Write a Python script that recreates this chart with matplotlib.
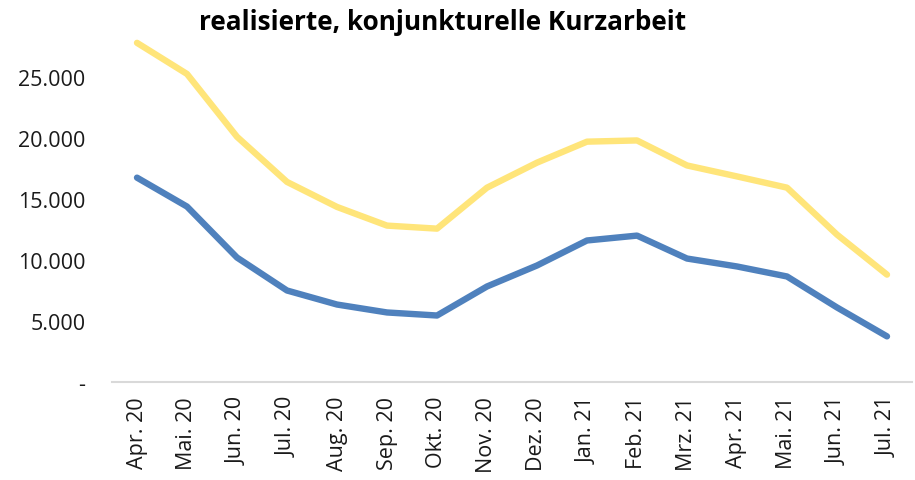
import matplotlib
matplotlib.use('Agg')
import matplotlib.pyplot as plt
from matplotlib.ticker import FuncFormatter

months = ['Apr. 20', 'Mai. 20', 'Jun. 20', 'Jul. 20', 'Aug. 20', 'Sep. 20', 'Okt. 20',
          'Nov. 20', 'Dez. 20', 'Jan. 21', 'Feb. 21', 'Mrz. 21', 'Apr. 21', 'Mai. 21',
          'Jun. 21', 'Jul. 21']
upper = [27800, 25250, 20100, 16400, 14350, 12820, 12570, 15930, 17980, 19700,
         19800, 17750, 16850, 15930, 12080, 8800]
lower = [16750, 14380, 10200, 7500, 6350, 5700, 5450, 7830, 9550, 11600,
         12000, 10120, 9470, 8650, 6110, 3740]

plt.rcParams['font.family'] = ['Open Sans', 'DejaVu Sans']

fig = plt.figure(figsize=(9.15, 4.81), dpi=100)
ax = fig.add_axes([112 / 915, 1 - 383 / 481, 800 / 915, 366 / 481])

x = range(len(months))
ax.plot(x, upper, color='#FFE57A', lw=4.6, solid_capstyle='round', solid_joinstyle='round')
ax.plot(x, lower, color='#4F81BD', lw=4.6, solid_capstyle='round', solid_joinstyle='round')

ax.set_xlim(-0.5, len(months) - 0.5)
ax.set_ylim(0, 30000)
ax.set_yticks([0, 5000, 10000, 15000, 20000, 25000])


def fmt(v, pos):
    if v == 0:
        return '-'
    return f'{int(v):,}'.replace(',', '.')


ax.yaxis.set_major_formatter(FuncFormatter(fmt))
ax.set_xticks(list(x))
ax.set_xticklabels(months, rotation=90)

for s in ['top', 'right', 'left']:
    ax.spines[s].set_visible(False)
ax.spines['bottom'].set_color('#D9D9D9')
ax.spines['bottom'].set_linewidth(1.5)
ax.tick_params(axis='both', length=0, labelsize=15.5, colors='#1a1a1a')
ax.tick_params(axis='y', pad=19)
ax.tick_params(axis='x', pad=10)

fig.text(443 / 915, 1 - 22 / 481, 'realisierte, konjunkturelle Kurzarbeit',
         ha='center', va='center', fontsize=18.8, fontweight='bold')

fig.savefig('out.png', dpi=100)
